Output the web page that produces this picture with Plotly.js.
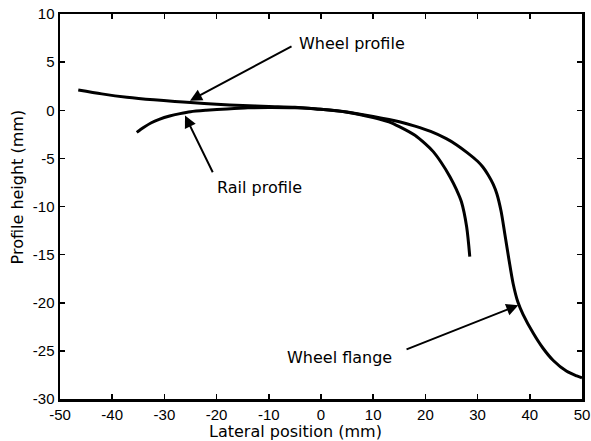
<!DOCTYPE html>
<html>
<head>
<meta charset="utf-8">
<script src="https://cdn.plot.ly/plotly-3.0.1.min.js"></script>
<style>html,body{margin:0;padding:0;background:#fff;}#chart{width:591px;height:441px;}</style>
</head>
<body>
<div id="chart"></div>
<script>
// Wheel profile (lateral position mm, height mm)
const wheelX = [-46.5, -42, -37.2, -32, -28, -25, -20, -15, -10, -5, -1, 5, 10, 15, 18, 21, 24, 26, 28, 30, 31, 32, 33, 33.7, 34.5, 35.2, 36, 36.8, 37.7, 38.7, 40.7, 42.5, 44.5, 47, 49, 50];
const wheelY = [2.1, 1.7, 1.35, 1.08, 0.92, 0.8, 0.62, 0.5, 0.4, 0.32, 0.14, -0.18, -0.65, -1.2, -1.65, -2.2, -2.95, -3.6, -4.4, -5.3, -5.9, -6.7, -7.7, -8.7, -10.5, -12.8, -15.5, -18.0, -19.9, -21.2, -23.2, -24.7, -26.0, -27.1, -27.6, -27.8];
// Rail profile
const railX = [-35.3, -34, -32.5, -31, -29, -27, -25, -22, -18, -14, -10, -5, 0, 5, 10, 13, 15, 18, 20, 21.5, 23, 24.7, 26, 26.9, 27.9, 28.5];
const railY = [-2.3, -1.8, -1.3, -0.95, -0.6, -0.35, -0.15, 0.0, 0.14, 0.25, 0.28, 0.25, 0.1, -0.2, -0.75, -1.2, -1.7, -2.6, -3.5, -4.3, -5.4, -6.9, -8.3, -9.5, -12.1, -15.2];
// Axis ticks
const xTicks = [-50, -40, -30, -20, -10, 0, 10, 20, 30, 40, 50];
const yTicks = [10, 5, 0, -5, -10, -15, -20, -25, -30];
// Labels: [text, textX, textY, tailX, tailY, headX, headY]
const labels = [
  ["Wheel profile", -4.66, 6.97, -5.36, 6.71, -25.1, 1.0],
  ["Rail profile", -20.3, -8.0, -20.6, -6.6, -26.05, -0.55],
  ["Wheel flange", -6.9, -25.65, 16.1, -24.9, 37.8, -20.26]
];

const lineStyle = {color: '#000', width: 3, shape: 'spline', smoothing: 0.8};
const traces = [
  {x: wheelX, y: wheelY, mode: 'lines', line: lineStyle, hoverinfo: 'skip'},
  {x: railX, y: railY, mode: 'lines', line: lineStyle, hoverinfo: 'skip'}
];

const font = {family: 'DejaVu Sans, Arial, sans-serif', color: '#000'};
const annotations = [];
labels.forEach(l => {
  annotations.push({x: l[5], y: l[6], ax: l[3], ay: l[4], xref: 'x', yref: 'y', axref: 'x', ayref: 'y',
    text: '', showarrow: true, arrowhead: 2, arrowsize: 1.2, arrowwidth: 2, arrowcolor: '#000'});
  annotations.push({x: l[1], y: l[2], xref: 'x', yref: 'y', text: l[0], showarrow: false,
    xanchor: 'left', yanchor: 'middle', font: Object.assign({size: 16}, font)});
});
annotations.push({x: 0.452, y: -0.085, xref: 'paper', yref: 'paper', text: 'Lateral position (mm)',
  showarrow: false, xanchor: 'center', yanchor: 'middle', font: Object.assign({size: 16}, font)});
annotations.push({x: -0.082, y: 0.55, xref: 'paper', yref: 'paper', text: 'Profile height (mm)', textangle: -90,
  showarrow: false, xanchor: 'center', yanchor: 'middle', font: Object.assign({size: 16}, font)});

const axisCommon = {
  showgrid: false, zeroline: false, showline: true, linecolor: '#000', linewidth: 2.5, mirror: 'ticks',
  ticks: 'inside', ticklen: 5, tickwidth: 1.5, tickcolor: '#000',
  tickfont: {family: 'Liberation Sans, Arial, sans-serif', size: 15, color: '#000'}
};
const layout = {
  width: 591, height: 441,
  margin: {l: 60, r: 9, t: 14, b: 42},
  paper_bgcolor: '#fff', plot_bgcolor: '#fff',
  showlegend: false,
  xaxis: Object.assign({}, axisCommon, {range: [-50, 50], tickvals: xTicks, ticktext: xTicks.map(String)}),
  yaxis: Object.assign({}, axisCommon, {range: [-30, 10], tickvals: yTicks, ticktext: yTicks.map(String)}),
  annotations: annotations
};
Plotly.newPlot('chart', traces, layout, {staticPlot: true, displayModeBar: false});
</script>
</body>
</html>
